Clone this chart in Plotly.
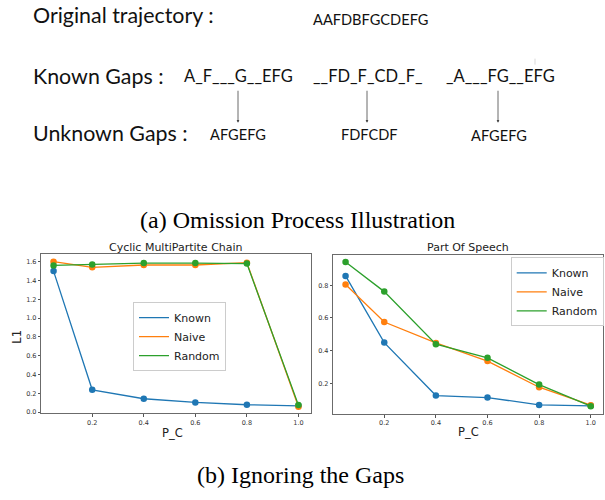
import plotly.graph_objects as go

# ---------------- data ----------------
pc = [0.05, 0.2, 0.4, 0.6, 0.8, 1.0]

cyc_known = [1.50, 0.237, 0.142, 0.103, 0.078, 0.067]
cyc_naive = [1.60, 1.54, 1.565, 1.565, 1.59, 0.057]
cyc_random = [1.56, 1.57, 1.585, 1.585, 1.58, 0.074]

pos_known = [0.857, 0.449, 0.125, 0.113, 0.068, 0.062]
pos_naive = [0.804, 0.575, 0.447, 0.336, 0.176, 0.066]
pos_random = [0.942, 0.761, 0.439, 0.356, 0.192, 0.060]

series_names = ["Known", "Naive", "Random"]
series_colors = ["#1f77b4", "#ff7f0e", "#2ca02c"]

x_ticks = [0.2, 0.4, 0.6, 0.8, 1.0]
cyc_y_ticks = [0.0, 0.2, 0.4, 0.6, 0.8, 1.0, 1.2, 1.4, 1.6]
pos_y_ticks = [0.2, 0.4, 0.6, 0.8]

W, H = 605, 500


def X(px):
    return px / W


def Y(py):
    return 1 - py / H


fig = go.Figure()

panels = [
    ("x", "y", [cyc_known, cyc_naive, cyc_random], "legend"),
    ("x2", "y2", [pos_known, pos_naive, pos_random], "legend2"),
]
for xa, ya, vals, leg in panels:
    for name, col, v in zip(series_names, series_colors, vals):
        fig.add_trace(go.Scatter(x=pc, y=v, mode="lines", name=name,
                                 line=dict(color=col, width=1.3),
                                 xaxis=xa, yaxis=ya, legend=leg,
                                 showlegend=True))
        fig.add_trace(go.Scatter(x=pc, y=v, mode="markers", name=name,
                                 marker=dict(color=col, size=6.5),
                                 xaxis=xa, yaxis=ya, showlegend=False))

tickfont = dict(family="DejaVu Sans", size=6.5, color="#333")
axis_common = dict(showgrid=False, zeroline=False, showline=True, mirror=True,
                   linecolor="#6b6b6b", linewidth=1, ticks="outside",
                   ticklen=2.5, tickwidth=0.8, tickcolor="#555",
                   tickfont=tickfont)

legend_font = dict(family="DejaVu Sans", size=11, color="#222")

fig.update_layout(
    width=W, height=H, autosize=False,
    margin=dict(l=0, r=0, t=0, b=0),
    paper_bgcolor="white", plot_bgcolor="white",
    xaxis=dict(domain=[X(41.3), X(310.7)], range=[0.0025, 1.0475],
               tickvals=x_ticks, ticktext=[f"{t:.1f}" for t in x_ticks],
               anchor="y", **axis_common),
    yaxis=dict(domain=[Y(415.7), Y(256)], range=[-0.012, 1.677],
               tickvals=cyc_y_ticks, ticktext=[f"{t:.1f}" for t in cyc_y_ticks],
               anchor="x", **axis_common),
    xaxis2=dict(domain=[X(333.3), X(603)], range=[0.0025, 1.0475],
                tickvals=x_ticks, ticktext=[f"{t:.1f}" for t in x_ticks],
                anchor="y2", **axis_common),
    yaxis2=dict(domain=[Y(416.7), Y(256.7)], range=[0.011, 0.984],
                tickvals=pos_y_ticks, ticktext=[f"{t:.1f}" for t in pos_y_ticks],
                anchor="x2", **axis_common),
    legend=dict(x=X(133), y=Y(304), xanchor="left", yanchor="top",
                bgcolor="rgba(255,255,255,0.85)", bordercolor="#cccccc",
                borderwidth=1, font=legend_font),
    legend2=dict(x=X(510.7), y=Y(259), xanchor="left", yanchor="top",
                 bgcolor="rgba(255,255,255,0.85)", bordercolor="#cccccc",
                 borderwidth=1, font=legend_font),
    showlegend=True,
)

ann = []


def text(t, x, y, size, family="Lato", xanchor="left", color="#111", angle=0):
    ann.append(dict(text=t, x=X(x), y=Y(y), xref="paper", yref="paper",
                    xanchor=xanchor, yanchor="middle", showarrow=False,
                    textangle=angle,
                    font=dict(family=family, size=size, color=color)))


# top illustration
BIG, GAP, LET = 21.4, 16.5, 14.6
text("Original trajectory :", 31, 15.5, BIG)
text("AAFDBFGCDEFG", 311, 20, LET)
text("Known Gaps :", 31, 76, BIG)
text("A_F___G__EFG", 182, 76, GAP)
text("__FD_F_CD_F_", 311, 76, GAP)
text("_A___FG__EFG", 444, 76, GAP)
text("Unknown Gaps :", 31, 134, BIG)
text("AFGEFG", 208, 135, LET)
text("FDFCDF", 339, 135.5, LET)
text("AFGEFG", 469, 136.5, LET)

for ax_x in [238, 367, 498]:
    ann.append(dict(x=X(ax_x), y=Y(123.5), xref="paper", yref="paper",
                    ax=0, ay=-33.5, axref="pixel", ayref="pixel",
                    text="", showarrow=True, arrowhead=2, arrowsize=0.7,
                    arrowwidth=0.8, arrowcolor="#444"))

# captions
text("(a) Omission Process Illustration", 297.5, 221, 24,
     family="Liberation Serif", xanchor="center", color="#000")
text("(b) Ignoring the Gaps", 300.5, 478, 24,
     family="Liberation Serif", xanchor="center", color="#000")

# subplot titles and axis labels
text("Cyclic MultiPartite Chain", 175.5, 249, 11, family="DejaVu Sans",
     xanchor="center", color="#222")
text("Part Of Speech", 467.7, 249, 11, family="DejaVu Sans",
     xanchor="center", color="#222")
text("P_C", 172, 436, 11.5, family="DejaVu Sans", xanchor="center", color="#222")
text("P_C", 468.3, 435, 11.5, family="DejaVu Sans", xanchor="center", color="#222")
text("L1", 16.7, 339, 11.5, family="DejaVu Sans", xanchor="center",
     color="#222", angle=-90)

fig.update_layout(annotations=ann)
fig.add_shape(type="line", xref="paper", yref="paper",
              x0=X(535), x1=X(535), y0=Y(59), y1=Y(65),
              line=dict(color="#cfcfcf", width=0.8))

# remove the default 8px page margin so the figure fills the window exactly
fig.write_html("out.html",
               config={"displayModeBar": False},
               post_script="document.body.style.margin='0';")
